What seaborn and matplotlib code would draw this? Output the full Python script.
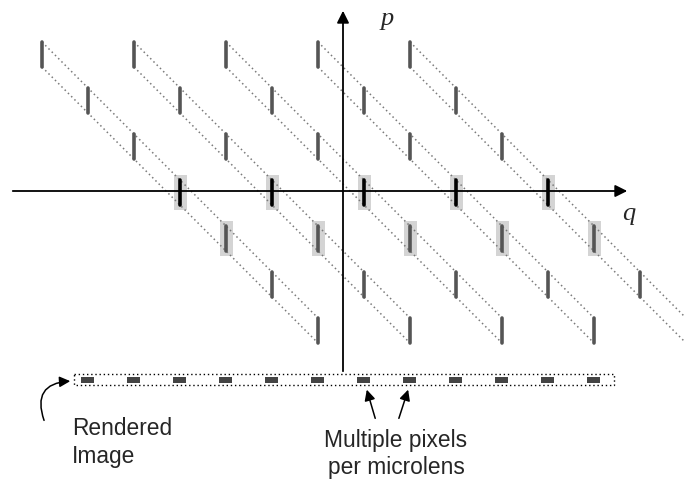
import numpy as np
import pandas as pd
import matplotlib.pyplot as plt
from matplotlib.patches import Rectangle, FancyArrowPatch
import seaborn as sns

# microlens chains: x of the top bar of each chain, and the rows (bar tops) they pass
chain_x0 = [42, 134, 226, 318, 410]
row_top = [42, 88, 134, 180, 226, 272, 318]
row_dx = [0, 46, 92, 138, 184, 230, 276]
bar_len = 25
sampled_rows = [3, 4]  # rows highlighted (row 3 lies on the q axis)

# rendered image pixels
pixel_x = [87, 133, 179, 225, 271, 317, 363, 409, 455, 501, 547, 593]

sns.set_style("white")
plt.rcParams['font.family'] = ['Liberation Sans', 'DejaVu Sans']

# build bar segments and band edges as long tables
bars = []
bands = []
for c, x0 in enumerate(chain_x0):
    for r, (yt, dx) in enumerate(zip(row_top, row_dx)):
        kind = 'axis' if r == 3 else ('sample' if r == 4 else 'plain')
        bid = f"{c}-{r}"
        bars.append([bid, kind, x0 + dx, yt])
        bars.append([bid, kind, x0 + dx, yt + bar_len])
    for edge, off in [('top', 0), ('bot', bar_len)]:
        bands.append([f"{c}-{edge}", x0, row_top[0] + off])
        bands.append([f"{c}-{edge}", x0 + row_dx[-1], row_top[-1] + off])
bars = pd.DataFrame(bars, columns=['id', 'kind', 'x', 'y'])
bands = pd.DataFrame(bands, columns=['id', 'x', 'y'])

fig = plt.figure(figsize=(6.84, 4.83), dpi=100)
ax = fig.add_axes([0, 0, 1, 1])

# highlight boxes
for r in sampled_rows:
    for x0 in chain_x0:
        ax.add_patch(Rectangle((x0 + row_dx[r] - 6.5, row_top[r] - 5.5), 13, bar_len + 10,
                               color='#d4d4d4', lw=0, zorder=0))

sns.lineplot(data=bands, x='x', y='y', units='id', estimator=None, sort=False,
             color='#7a7a7a', lw=1.1, ls=(0, (1, 2)), ax=ax, zorder=1)
sns.lineplot(data=bars, x='x', y='y', units='id', estimator=None, sort=False,
             hue='kind', palette={'plain': '#555555', 'axis': '#000000', 'sample': '#555555'},
             lw=2.6, ax=ax, legend=False, zorder=3)

# axes
ax.annotate('', xy=(630, 191), xytext=(10, 191),
            arrowprops=dict(arrowstyle='-|>', color='black', lw=1.3, mutation_scale=18), zorder=2)
ax.annotate('', xy=(343, 8), xytext=(343, 374),
            arrowprops=dict(arrowstyle='-|>', color='black', lw=1.3, mutation_scale=18), zorder=2)
ax.text(387, 19, 'p', family='Liberation Serif', style='italic', fontsize=19,
        ha='center', va='center')
ax.text(629, 214, 'q', family='Liberation Serif', style='italic', fontsize=19,
        ha='center', va='center')

# rendered image strip
ax.add_patch(Rectangle((74, 374), 540, 11, fill=False, ec='black', lw=1, ls=(0, (1, 2)), zorder=2))
for px in pixel_x:
    ax.add_patch(Rectangle((px - 6.5, 376.5), 13, 6, color='#444444', lw=0, zorder=3))

# annotations
ax.add_patch(FancyArrowPatch((45, 423), (73, 381), connectionstyle='arc3,rad=-0.7',
                             arrowstyle='-|>', mutation_scale=16, color='black', lw=1.1))
ax.annotate('', xy=(366, 387), xytext=(376, 421),
            arrowprops=dict(arrowstyle='-|>', color='black', lw=1.1, mutation_scale=16))
ax.annotate('', xy=(409, 387), xytext=(398, 421),
            arrowprops=dict(arrowstyle='-|>', color='black', lw=1.1, mutation_scale=16))
ax.text(72, 435, 'Rendered', fontsize=16.4, ha='left', va='baseline')
ax.text(72, 463, 'Image', fontsize=16.4, ha='left', va='baseline')
ax.text(396, 447, 'Multiple pixels', fontsize=16.4, ha='center', va='baseline')
ax.text(396, 474, 'per microlens', fontsize=16.4, ha='center', va='baseline')

ax.set_xlim(0, 684)
ax.set_ylim(483, 0)
ax.axis('off')
fig.savefig('out.png', dpi=100)
